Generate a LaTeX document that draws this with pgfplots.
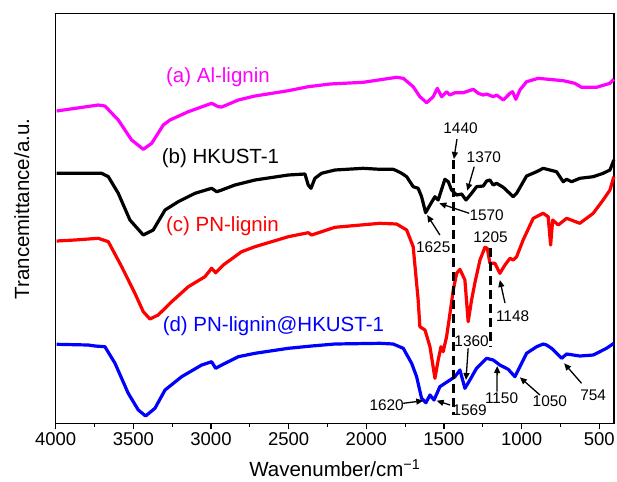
\documentclass[border=0pt]{standalone}
\usepackage{pgfplots}
\pgfplotsset{compat=1.18}
\usepackage{fontspec}
\setmainfont{Liberation Sans}
\usetikzlibrary{arrows.meta,calc}
\definecolor{cmag}{RGB}{255,0,255}
\definecolor{cred}{RGB}{255,0,0}
\definecolor{cblue}{RGB}{0,0,255}
\newcommand{\ann}{\fontsize{15.4bp}{18bp}\selectfont}
\newcommand{\lab}{\fontsize{20.5bp}{24bp}\selectfont}
\begin{document}
\begin{tikzpicture}
\begin{axis}[
  scale only axis, width=558.3bp, height=410bp,
  xmin=405, xmax=4000, x dir=reverse,
  ymin=13.3, ymax=423.3, y dir=reverse,
  ytick=\empty,
  xtick={500,1000,1500,2000,2500,3000,3500,4000},
  minor x tick num=1,
  xtick pos=bottom, tick align=outside,
  major tick length=6bp, minor tick length=3.5bp,
  every tick/.style={black, line width=1.2bp},
  axis line style={line width=1.4bp},
  /pgf/number format/assume math mode=true,
  /pgf/number format/set thousands separator={},
  ticklabel style={font=\fontsize{18.5bp}{22bp}\selectfont},
  xlabel={Wavenumber/cm\textsuperscript{−1}},
  ylabel={Trancemittance/a.u.},
  label style={font=\lab},
  xlabel style={at={(axis description cs:0.5,-0.109)},anchor=center},
  ylabel style={at={(axis description cs:-0.0609,0.5227)},anchor=center},
  clip=false,
]
\coordinate (SW) at (rel axis cs:0,0);
\coordinate (NE) at (rel axis cs:1,1);
% (a) Al-lignin
\addplot[cmag, line width=3.2bp, line join=round] coordinates {
(3994,111) (3726,105) (3683,106) (3597,120) (3511,140) (3436,149.3) (3382,143.3) (3307,125) (3264,120) (3146,111.7) (2996,103.3) (2953,106.7) (2931,107) (2824,100) (2717,96) (2502,90.7) (2374,86.7) (2234,84) (2020,82.3) (1805,77.3) (1762,78.3) (1698,86.7) (1655,96.7) (1611,102.7) (1569,96.7) (1543,88.3) (1515,96.7) (1483,91.7) (1461,95) (1429,92.7) (1376,92.7) (1311,89.3) (1279,93.3) (1247,95) (1225,94) (1183,96.7) (1161,95) (1118,100) (1075,93.3) (1058,91.7) (1037,99.3) (1011,90) (968,81.7) (893,78.3) (732,80.7) (657,83.3) (614,87.3) (517,87.3) (431,83.3) (406,79.3)
};
% (b) HKUST-1
\addplot[black, line width=3.2bp, line join=round] coordinates {
(3994,173.3) (3704,173.3) (3661,176.7) (3597,193.3) (3522,220) (3436,235) (3372,230) (3296,210) (3211,201.7) (3103,193.3) (2996,188.3) (2963,191.7) (2931,190) (2846,185) (2717,180) (2502,175) (2395,174) (2374,185) (2356,188.3) (2331,178.3) (2288,173.3) (2202,170) (2020,168.3) (1912,169.3) (1827,169.3) (1805,170.7) (1772,173.3) (1740,176.7) (1698,186.7) (1666,188.3) (1644,196.7) (1618,212.7) (1590,205) (1558,196.7) (1537,200) (1494,179.3) (1472,181.7) (1451,190) (1418,195) (1386,194) (1358,200) (1322,193.3) (1290,186.7) (1247,186) (1225,181) (1204,180) (1183,185) (1161,183.3) (1118,187.3) (1054,196.7) (1032,193.3) (968,176) (903,171.7) (861,168.3) (818,170) (775,171.7) (732,181.7) (710,179.3) (678,181.7) (625,178.3) (539,176.7) (475,173.3) (431,170) (406,160)
};
% (c) PN-lignin
\addplot[cred, line width=3.2bp, line join=round] coordinates {
(3994,241) (3876,240) (3726,238.3) (3661,241.7) (3575,266.7) (3490,293.3) (3436,311.7) (3393,319) (3340,315) (3253,301.7) (3146,286.7) (3039,276.7) (2996,268.3) (2970,272.7) (2921,265) (2803,251.7) (2717,246.7) (2502,236.7) (2374,232.7) (2352,235) (2202,227.3) (1912,223.3) (1805,224) (1740,230) (1698,246.7) (1666,300) (1655,326.7) (1622,330) (1590,346.7) (1558,378.3) (1537,360) (1519,346.7) (1505,351.7) (1483,336.7) (1461,313.3) (1440,290) (1418,273.3) (1397,269.3) (1365,280) (1344,321.7) (1322,300) (1301,283) (1268,260) (1236,247.3) (1221,248.3) (1204,263.3) (1172,263.3) (1140,273.3) (1107,265) (1075,258.3) (1054,260) (1032,256.7) (990,240) (925,218.3) (861,213.3) (829,216.7) (813,245) (800,220) (764,225) (710,218.3) (625,223.3) (539,213.3) (475,200) (431,190) (406,176.7)
};
% (d) PN-lignin@HKUST-1
\addplot[cblue, line width=3.2bp, line join=round] coordinates {
(3994,344.3) (3790,345) (3747,346) (3683,346.7) (3618,363.3) (3533,393.3) (3468,410) (3421,416) (3361,408.3) (3296,390) (3189,376.7) (3060,365) (2996,361.7) (2970,368.3) (2931,365) (2824,356.7) (2717,353.3) (2502,348.3) (2352,346) (2202,344) (1912,343.3) (1827,344) (1762,348.3) (1708,363.3) (1676,376.7) (1644,398.3) (1616,402.7) (1590,395) (1564,400) (1526,386.7) (1461,380) (1429,376.7) (1397,370) (1365,388.3) (1333,380) (1290,368.3) (1225,358.3) (1183,360) (1140,365) (1086,369.3) (1043,376.7) (1011,366.7) (968,353.3) (903,346.7) (861,344) (839,345) (807,348.3) (742,358.3) (710,354) (625,356) (539,355) (453,348.3) (406,343.3)
};
% curve labels
\node[font=\lab, text=cmag] at (axis cs:2955,77.3) {(a) Al-lignin};
\node[font=\lab, text=black] at (axis cs:2939,158.3) {(b) HKUST-1};
\node[font=\lab, text=cred] at (axis cs:2926,226) {(c) PN-lignin};
\node[font=\lab, text=cblue] at (axis cs:2598,326) {(d) PN-lignin@HKUST-1};
% dashed lines
\draw[black, line width=2.6bp, dash pattern=on 9bp off 5bp] (axis cs:1440,160) -- (axis cs:1440,415);
\draw[black, line width=2.6bp, dash pattern=on 9bp off 5bp] (axis cs:1200,248) -- (axis cs:1200,347);
% annotations
\tikzset{ar/.style={black, line width=1.3bp, -{Triangle[length=7bp,width=6bp]}}}
\node[font=\ann] at (axis cs:1393,128.3) {1440};
\draw[ar] (axis cs:1416,139) -- (axis cs:1436,159);
\node[font=\ann] at (axis cs:1243,157) {1370};
\draw[ar] (axis cs:1305,166.7) -- (axis cs:1350,190.7);
\node[font=\ann] at (axis cs:1225,215) {1570};
\draw[ar] (axis cs:1337,213.3) -- (axis cs:1530,203.3);
\node[font=\ann] at (axis cs:1569,246.7) {1625};
\draw[ar] (axis cs:1526,235) -- (axis cs:1608,215);
\node[font=\ann] at (axis cs:1200,237.3) {1205};
\node[font=\ann] at (axis cs:1058,316) {1148};
\draw[ar] (axis cs:1107,303) -- (axis cs:1140,280);
\node[font=\ann] at (axis cs:1322,340.7) {1360};
\draw[ar] (axis cs:1344,348.3) -- (axis cs:1358,380);
\node[font=\ann] at (axis cs:1129,398.3) {1150};
\draw[ar] (axis cs:1159,391.7) -- (axis cs:1157,366);
\node[font=\ann] at (axis cs:818,400.7) {1050};
\draw[ar] (axis cs:882,395) -- (axis cs:1011,377.3);
\node[font=\ann] at (axis cs:539,395) {754};
\draw[ar] (axis cs:614,383.3) -- (axis cs:726,363.3);
\node[font=\ann] at (axis cs:1869,405) {1620};
\draw[ar] (axis cs:1762,403.3) -- (axis cs:1633,400.7);
\node[font=\ann, anchor=west, inner sep=0pt] at (axis cs:1446,410) {1569};
\draw[ar] (axis cs:1461,405) -- (axis cs:1547,400.7);
\end{axis}
\pgfresetboundingbox
\path ($(SW)+(-55.7bp,-58.7bp)$) rectangle ($(NE)+(3bp,13.3bp)$);
\end{tikzpicture}
\end{document}
